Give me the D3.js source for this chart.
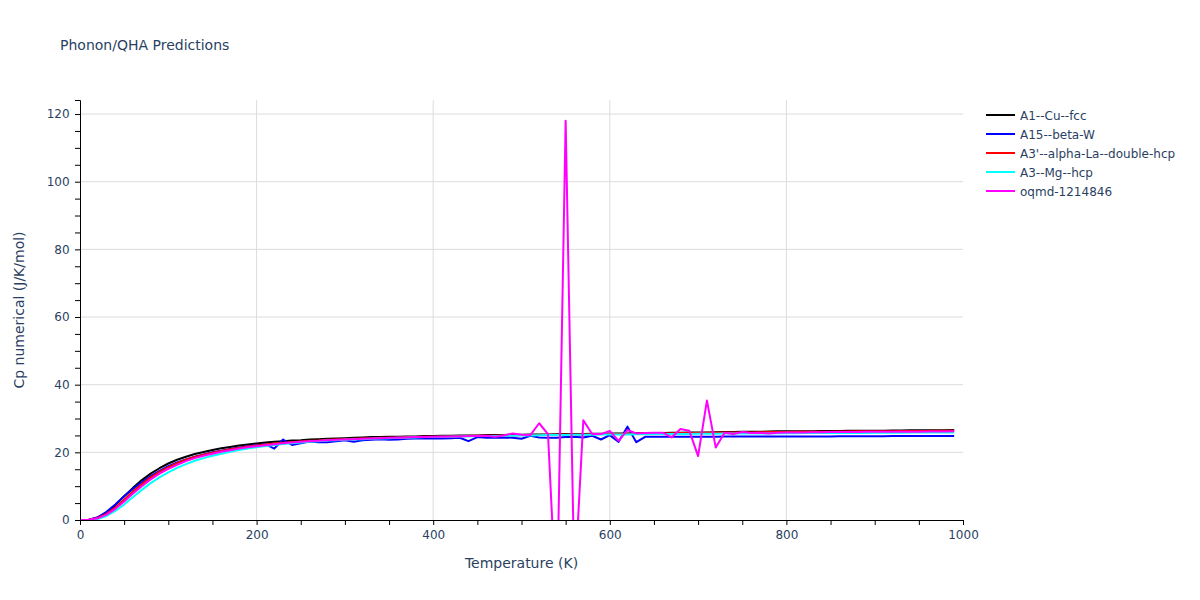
<!DOCTYPE html>
<html>
<head>
<meta charset="utf-8">
<script src="https://cdn.jsdelivr.net/npm/d3@7"></script>
<style>
  body { margin: 0; background: #fff; }
  svg text { font-family: "DejaVu Sans", verdana, arial, sans-serif; }
</style>
</head>
<body>
<svg id="chart" width="1200" height="600"></svg>
<script>
// Temperatures (K), 0..990 step 10
const temperatures = d3.range(0, 1000, 10);

const seriesNames = ["A1--Cu--fcc", "A15--beta-W", "A3'--alpha-La--double-hcp", "A3--Mg--hcp", "oqmd-1214846"];
const seriesColors = ["#000000", "#0000ff", "#ff0000", "#00ffff", "#ff00ff"];

const cuFcc = [
  0, 0.05, 0.7, 2.2, 4.4, 7.0, 9.5, 11.8, 13.7, 15.3,
  16.7, 17.8, 18.7, 19.5, 20.1, 20.7, 21.2, 21.6, 22.0, 22.3,
  22.6, 22.9, 23.1, 23.3, 23.5, 23.6, 23.8, 23.9, 24.0, 24.1,
  24.2, 24.3, 24.4, 24.5, 24.5, 24.6, 24.6, 24.7, 24.7, 24.8,
  24.8, 24.9, 24.9, 25.0, 25.0, 25.0, 25.1, 25.1, 25.1, 25.2,
  25.2, 25.25, 25.3, 25.3, 25.35, 25.4, 25.4, 25.45, 25.5, 25.5,
  25.55, 25.6, 25.6, 25.65, 25.7, 25.7, 25.75, 25.8, 25.8, 25.85,
  25.9, 25.9, 25.95, 26.0, 26.0, 26.05, 26.1, 26.1, 26.15, 26.2,
  26.2, 26.2, 26.25, 26.25, 26.3, 26.3, 26.3, 26.35, 26.35, 26.4,
  26.4, 26.4, 26.45, 26.45, 26.5, 26.5, 26.5, 26.55, 26.55, 26.6
];

const betaW = [
  0, 0.1, 0.8, 2.4, 4.6, 7.0, 9.2, 11.2, 13.0, 14.5,
  15.9, 17.0, 17.9, 18.7, 19.4, 20.0, 20.5, 21.0, 21.4, 21.8,
  22.1, 22.4, 21.1, 23.8, 22.2, 22.7, 23.2, 23.0, 23.0, 23.3,
  23.6, 23.1, 23.6, 23.7, 23.9, 23.7, 23.8, 24.0, 24.1, 24.1,
  24.1, 24.1, 24.2, 24.3, 23.3, 24.5, 24.3, 24.3, 24.4, 24.3,
  24.0, 24.9, 24.4, 24.3, 24.3, 24.5, 24.6, 24.4, 24.9, 23.8,
  25.1, 23.1, 27.6, 23.0, 24.6, 24.6, 24.6, 24.6, 24.6, 24.6,
  24.6, 24.6, 24.6, 24.65, 24.65, 24.65, 24.65, 24.65, 24.65, 24.7,
  24.7, 24.7, 24.7, 24.7, 24.7, 24.7, 24.75, 24.75, 24.75, 24.75,
  24.75, 24.75, 24.8, 24.8, 24.8, 24.8, 24.8, 24.8, 24.8, 24.8
];

const laDhcp = [
  0, 0.05, 0.6, 1.8, 3.7, 6.0, 8.4, 10.6, 12.6, 14.2,
  15.6, 16.8, 17.8, 18.6, 19.3, 19.9, 20.4, 20.9, 21.3, 21.7,
  22.0, 22.3, 22.6, 22.8, 23.0, 23.2, 23.4, 23.5, 23.7, 23.8,
  23.9, 24.0, 24.1, 24.2, 24.3, 24.3, 24.4, 24.5, 24.5, 24.6,
  24.6, 24.7, 24.7, 24.8, 24.8, 24.9, 24.9, 24.9, 25.0, 25.0,
  25.1, 25.1, 25.15, 25.2, 25.2, 25.25, 25.3, 25.3, 25.35, 25.4,
  25.4, 25.45, 25.5, 25.5, 25.55, 25.6, 25.6, 25.65, 25.7, 25.7,
  25.75, 25.8, 25.8, 25.85, 25.85, 25.9, 25.9, 25.95, 26.0, 26.0,
  26.0, 26.05, 26.05, 26.1, 26.1, 26.1, 26.15, 26.15, 26.2, 26.2,
  26.2, 26.25, 26.25, 26.3, 26.3, 26.3, 26.3, 26.35, 26.35, 26.4
];

const mgHcp = [
  0, 0, 0.3, 1.2, 2.7, 4.6, 6.8, 8.9, 10.9, 12.6,
  14.1, 15.4, 16.5, 17.5, 18.3, 19.0, 19.6, 20.2, 20.7, 21.1,
  21.5, 21.9, 22.2, 22.5, 22.7, 22.9, 23.1, 23.3, 23.5, 23.6,
  23.7, 23.8, 23.9, 24.0, 24.1, 24.2, 24.3, 24.3, 24.4, 24.5,
  24.5, 24.6, 24.6, 24.7, 24.7, 24.8, 24.8, 24.8, 24.9, 24.9,
  25.0, 25.0, 25.05, 25.1, 25.1, 25.15, 25.2, 25.2, 25.2, 25.25,
  25.3, 25.3, 25.3, 25.35, 25.35, 25.4, 25.4, 25.4, 25.45, 25.45,
  25.5, 25.5, 25.5, 25.55, 25.55, 25.6, 25.6, 25.6, 25.6, 25.65,
  25.65, 25.65, 25.7, 25.7, 25.7, 25.7, 25.75, 25.75, 25.75, 25.75,
  25.8, 25.8, 25.8, 25.8, 25.85, 25.85, 25.85, 25.85, 25.9, 25.9
];

const oqmd = [
  0, 0.05, 0.5, 1.6, 3.3, 5.5, 7.8, 10.0, 12.0, 13.7,
  15.1, 16.3, 17.4, 18.3, 19.0, 19.6, 20.2, 20.6, 21.1, 21.5,
  21.8, 22.1, 22.4, 22.7, 22.9, 23.1, 23.3, 23.4, 23.6, 23.7,
  23.8, 23.9, 24.0, 24.1, 24.2, 24.3, 24.3, 24.4, 24.5, 24.5,
  24.6, 24.6, 24.7, 24.7, 24.8, 24.8, 24.9, 24.6, 25.0, 25.6,
  25.2, 25.1, 28.6, 25.4, -28, 118, -20, 29.5, 25.4, 25.4,
  26.3, 23.4, 26.6, 25.6, 25.7, 25.8, 25.8, 24.4, 26.9, 26.4,
  18.9, 35.3, 21.4, 25.8, 25.4, 26.0, 25.7, 25.8, 25.6, 25.8,
  25.9, 25.9, 25.9, 25.95, 25.95, 26.0, 26.0, 26.0, 26.0, 26.05,
  26.05, 26.05, 26.1, 26.1, 26.1, 26.1, 26.15, 26.15, 26.15, 26.2
];

const seriesValues = [cuFcc, betaW, laDhcp, mgHcp, oqmd];

const xTicks = [0, 200, 400, 600, 800, 1000];
const yTicks = [0, 20, 40, 60, 80, 100, 120];

const svg = d3.select("#chart");
const margin = { left: 80, right: 237, top: 100, bottom: 80 };
const W = 1200, H = 600;

const x = d3.scaleLinear().domain([0, 1000]).range([margin.left, W - margin.right]);
const y = d3.scaleLinear().domain([0, 124.15]).range([H - margin.bottom, margin.top]);

const textColor = "#2a3f5f";
const gridColor = "#dcdcdc";

// grid
svg.append("g").selectAll("line").data(xTicks.filter(d => d > 0 && d < 1000)).join("line")
  .attr("x1", d => x(d)).attr("x2", d => x(d))
  .attr("y1", y.range()[1]).attr("y2", y.range()[0])
  .attr("stroke", gridColor).attr("stroke-width", 1);
svg.append("g").selectAll("line").data(yTicks.filter(d => d > 0)).join("line")
  .attr("x1", x.range()[0]).attr("x2", x.range()[1])
  .attr("y1", d => y(d)).attr("y2", d => y(d))
  .attr("stroke", gridColor).attr("stroke-width", 1);

// clip
svg.append("clipPath").attr("id", "clip").append("rect")
  .attr("x", x.range()[0]).attr("y", y.range()[1])
  .attr("width", x.range()[1] - x.range()[0])
  .attr("height", y.range()[0] - y.range()[1]);

const line = d3.line().x((d, i) => x(temperatures[i])).y(d => y(d));
const linesG = svg.append("g").attr("clip-path", "url(#clip)");
seriesValues.forEach((vals, k) => {
  linesG.append("path").datum(vals)
    .attr("d", line)
    .attr("fill", "none")
    .attr("stroke", seriesColors[k])
    .attr("stroke-width", 2)
    .attr("stroke-linejoin", "round");
});

// axes
const xAxis = d3.axisBottom(x).tickValues(d3.range(0, 1001, 50)).tickSize(5)
  .tickFormat(d => xTicks.includes(d) ? d : "");
const gx = svg.append("g").attr("transform", `translate(0,${y(0)})`).call(xAxis);
gx.select(".domain").attr("stroke", "#000");
gx.selectAll(".tick line").attr("stroke", "#000");
gx.selectAll(".tick text").attr("fill", textColor).attr("font-size", 12).attr("dy", "0.95em");

const yAxis = d3.axisLeft(y).tickValues(d3.range(0, 121, 5)).tickSize(5)
  .tickFormat(d => yTicks.includes(d) ? d : "");
const gy = svg.append("g").attr("transform", `translate(${x(0)},0)`).call(yAxis);
gy.select(".domain").attr("stroke", "#000");
gy.selectAll(".tick line").attr("stroke", "#000");
gy.selectAll(".tick text").attr("fill", textColor).attr("font-size", 12).attr("dx", "-0.2em");

// titles
svg.append("text").attr("x", 60).attr("y", 50).attr("fill", textColor)
  .attr("font-size", 14).text("Phonon/QHA Predictions");
svg.append("text").attr("x", (x.range()[0] + x.range()[1]) / 2).attr("y", 568)
  .attr("text-anchor", "middle").attr("fill", textColor).attr("font-size", 14)
  .text("Temperature (K)");
svg.append("text")
  .attr("transform", `translate(24,${(y.range()[0] + y.range()[1]) / 2}) rotate(-90)`)
  .attr("text-anchor", "middle").attr("fill", textColor).attr("font-size", 14)
  .text("Cp numerical (J/K/mol)");

// legend
const lg = svg.append("g").attr("transform", "translate(986,115)");
seriesNames.forEach((name, k) => {
  const row = lg.append("g").attr("transform", `translate(0,${k * 19})`);
  row.append("line").attr("x1", 0).attr("x2", 29).attr("y1", 0).attr("y2", 0)
    .attr("stroke", seriesColors[k]).attr("stroke-width", 2);
  row.append("text").attr("x", 34).attr("y", 4.5).attr("fill", textColor)
    .attr("font-size", 12).text(name);
});
</script>
</body>
</html>
